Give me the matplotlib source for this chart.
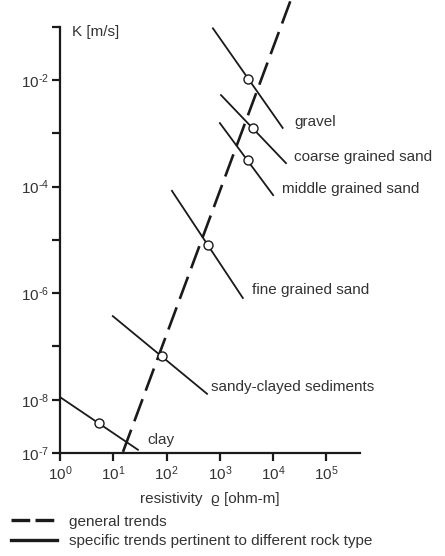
import matplotlib
matplotlib.use("Agg")
import matplotlib.pyplot as plt
from matplotlib.lines import Line2D

plt.rcParams['font.family'] = ['Liberation Sans', 'DejaVu Sans']
plt.rcParams['mathtext.fontset'] = 'custom'
plt.rcParams['mathtext.rm'] = 'Liberation Sans'
plt.rcParams['mathtext.default'] = 'regular'
plt.rcParams['lines.scale_dashes'] = False

TXT = '#333333'
INK = '#1a1a1a'

# specific trends: resistivity [ohm-m] and K [m/s] at both ends, plus the marked point
rock_types = ['gravel', 'coarse grained sand', 'middle grained sand',
              'fine grained sand', 'sandy-clayed sediments', 'clay']
rho_start = [741, 1050, 1000, 126, 9.8, 1.0]
rho_end = [15100, 17400, 10000, 2700, 575, 29]
k_start = [9.3e-2, 5.2e-3, 1.55e-3, 8.3e-5, 3.7e-7, 1.12e-8]
k_end = [1.26e-3, 2.75e-4, 6.9e-5, 8.1e-7, 1.29e-8, 1.15e-9]
rho_point = [3390, 4170, 3390, 600, 82, 5.4]
k_point = [1.05e-2, 1.26e-3, 3.2e-4, 7.9e-6, 6.6e-8, 3.6e-9]

# general trend (dashed)
rho_general = [15.2, 21400]
k_general = [1.05e-9, 0.316]

# where the rock names sit
label_rho = [24500, 24500, 14600, 3980, 676, 42.7]
label_k = [1.62e-3, 3.55e-4, 8.9e-5, 1.15e-6, 1.74e-8, 1.74e-9]

x_ticks = [1, 10, 100, 1e3, 1e4, 1e5]
x_labels = ['$10^{0}$', '$10^{1}$', '$10^{2}$', '$10^{3}$', '$10^{4}$', '$10^{5}$']
y_ticks = [1e-9, 1e-8, 1e-7, 1e-6, 1e-5, 1e-4, 1e-3, 1e-2, 1e-1]
y_labels = ['$10^{‐7}$', '$10^{‐8}$', '', '$10^{‐6}$', '', '$10^{‐4}$', '', '$10^{‐2}$', '']

fig = plt.figure(figsize=(4.45, 5.56), dpi=100)
ax = fig.add_axes([60 / 445, 103 / 556, 300 / 445, 453 / 556])
ax.set_xscale('log')
ax.set_yscale('log')
ax.set_xlim(1, 10 ** 5.63)
ax.set_ylim(1e-9, 10 ** -0.5)

ax.plot(rho_general, k_general, color=INK, lw=1.9,
        dashes=(17, 6.5), solid_capstyle='butt', dash_capstyle='butt')

for i, name in enumerate(rock_types):
    ax.plot([rho_start[i], rho_end[i]], [k_start[i], k_end[i]], color=INK, lw=1.3)
    ax.plot(rho_point[i], k_point[i], 'o', ms=6.5, mfc='white', mec=INK, mew=1.0, zorder=5)
    ax.text(label_rho[i], label_k[i], name, fontsize=11, color=TXT,
            ha='left', va='center')

for s in ['top', 'right']:
    ax.spines[s].set_visible(False)
for s in ['left', 'bottom']:
    ax.spines[s].set_linewidth(1.6)
    ax.spines[s].set_color(INK)
ax.spines['left'].set_bounds(1e-9, 1e-1)

ax.set_xticks(x_ticks)
ax.set_xticklabels(x_labels)
ax.set_yticks(y_ticks)
ax.set_yticklabels(y_labels)
ax.xaxis.set_minor_locator(matplotlib.ticker.NullLocator())
ax.yaxis.set_minor_locator(matplotlib.ticker.NullLocator())
ax.tick_params(direction='out', length=6, width=1.6, color=INK,
               labelsize=11, labelcolor=TXT, pad=2)

ax.set_xlabel('resistivity  ϱ [ohm-m]', fontsize=11, color=TXT, labelpad=7)
fig.text(72 / 445, 1 - 32 / 556, 'K [m/s]', fontsize=11, color=TXT,
         ha='left', va='center')

handles = [Line2D([], [], color=INK, lw=2.4, dashes=(13.5, 3.8),
                  dash_capstyle='butt'),
           Line2D([], [], color=INK, lw=2.4)]
fig.legend(handles,
           ['general trends', 'specific trends pertinent to different rock type'],
           loc='upper left', bbox_to_anchor=(0.0, 1 - 504 / 556), frameon=False,
           fontsize=11, labelcolor=TXT, handlelength=3.0, handletextpad=0.8,
           labelspacing=0.35, borderpad=0.2)

fig.savefig('out.png', dpi=100)
